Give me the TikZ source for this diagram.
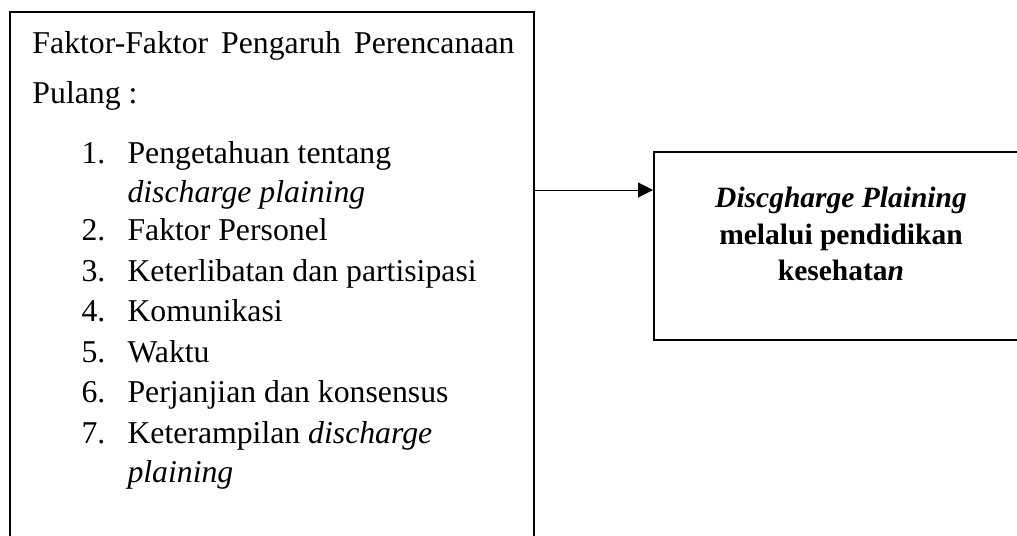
\documentclass[tikz,border=0pt]{standalone}
\usepackage{fontspec}
\setmainfont{Liberation Serif}
\usetikzlibrary{arrows.meta}

\begin{document}
\begin{tikzpicture}[x=0.4pt, y=-0.4pt,
frame/.style = {% the two boxes
    draw, line width=0.8pt, inner sep=0pt,
            },
ln/.style = {% one line of text
    anchor=base west, inner sep=0pt, font=\fontsize{12.7}{15}\selectfont,
            },
bln/.style = {% bold lines, right box
    anchor=base, inner sep=0pt, font=\fontsize{11.8}{14}\selectfont\bfseries,
            },
                    ]

  \useasboundingbox (0,0) rectangle (1017,535);
  \clip (0,0) rectangle (1017,535);

  \node[frame, minimum width=209.6pt, minimum height=235.2pt] (faktor) at (272,306) {};
  \node[frame, minimum width=150.4pt, minimum height=75.2pt] (planning) at (842,246) {};

  \node[ln] (judul) at (32,53)
      {\makebox[192.8pt][s]{Faktor-Faktor Pengaruh Perencanaan}};
  \node[ln] (pulang) at (32,103) {Pulang :};

  % daftar faktor
  \foreach \n/\y/\t in {1/163/Pengetahuan tentang, 2/240/Faktor Personel,
      3/281/Keterlibatan dan partisipasi, 4/321/Komunikasi, 5/362/Waktu,
      6/402/Perjanjian dan konsensus, 7/443/{Keterampilan \textit{discharge}}}
  {
    \node[ln] (no\n) at (81,\y) {\n.};
    \node[ln] (item\n) at (127,\y) {\t};
  }
  \node[ln] (item1b) at (127,202) {\textit{discharge plaining}};
  \node[ln] (item7b) at (127,482) {\textit{plaining}};

  \node[bln] (dp1) at (841,207) {\textit{Discgharge Plaining}};
  \node[bln] (dp2) at (841,244) {melalui pendidikan};
  \node[bln] (dp3) at (841,280) {kesehata\textit{n}};

  \coordinate (pj) at (0,190);
  \draw[line width=0.4pt, -{Triangle[length=6pt,width=6pt]}]
      (faktor.east |- pj) -- (planning.west |- pj);

\end{tikzpicture}
\end{document}
